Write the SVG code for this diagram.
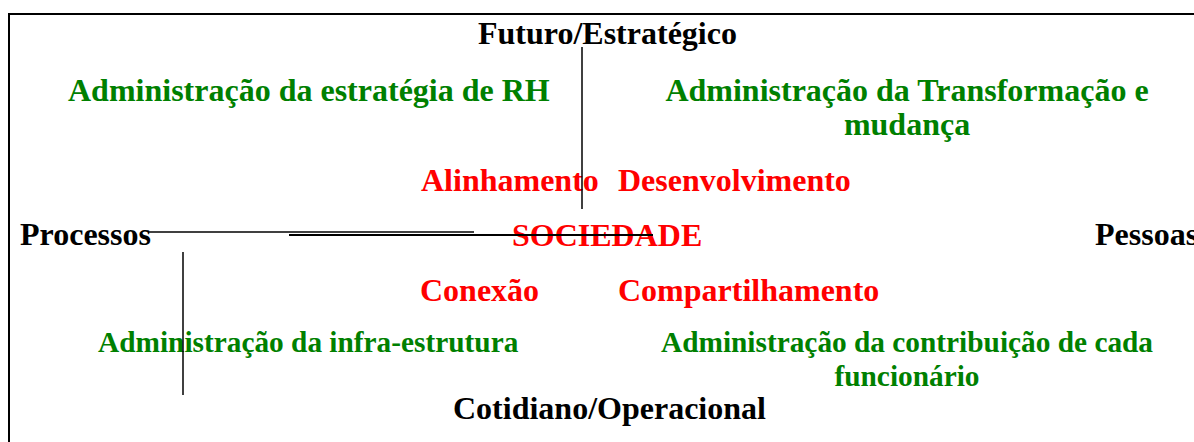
<svg xmlns="http://www.w3.org/2000/svg" width="1194" height="442" viewBox="0 0 1194 442">
<style>
text{font-family:'Liberation Serif','DejaVu Serif',serif;font-weight:700;font-size:32px}
.k{fill:#000}.g{fill:#008000}.r{fill:#ff0000}
.s{font-size:29.33px}
.ln{stroke:#000;fill:none}
</style>
<rect x="0" y="0" width="1194" height="442" fill="#fff"/>
<rect x="9" y="14" width="1200" height="440" fill="none" stroke="#000" stroke-width="2"/>
<g id="top"><text class="k" x="478" y="44">Futuro/Estratégico</text></g>
<g id="estrategia"><text class="g" x="68" y="101">Administração da estratégia de RH</text></g>
<g id="transformacao"><text class="g" x="907" y="101" text-anchor="middle">Administração da Transformação e</text><text class="g" x="907" y="135" text-anchor="middle">mudança</text></g>
<g id="alinhamento"><text class="r" x="421" y="191">Alinhamento</text></g>
<g id="desenvolvimento"><text class="r" x="618" y="191">Desenvolvimento</text></g>
<g id="processos"><text class="k" x="20" y="245">Processos</text></g>
<g id="sociedade"><text class="r" x="512" y="246">SOCIEDADE</text></g>
<g id="pessoas"><text class="k" x="1095" y="245">Pessoas</text></g>
<g id="conexao"><text class="r" x="420" y="301">Conexão</text></g>
<g id="compartilhamento"><text class="r" x="618" y="301">Compartilhamento</text></g>
<g id="infra"><text class="g s" x="98" y="352">Administração da infra-estrutura</text></g>
<g id="contribuicao"><text class="g s" x="907" y="352" text-anchor="middle">Administração da contribuição de cada</text><text class="g s" x="907" y="386" text-anchor="middle">funcionário</text></g>
<g id="bottom"><text class="k" x="453" y="419">Cotidiano/Operacional</text></g>
<g id="connectors">
<line class="ln" x1="582" y1="47" x2="582" y2="209" stroke-width="1.5"/>
<line class="ln" x1="148" y1="232" x2="474" y2="232" stroke-width="1.5"/>
<line class="ln" x1="289" y1="235" x2="653" y2="235" stroke-width="2"/>
<line class="ln" x1="183" y1="252" x2="183" y2="395" stroke-width="1.5"/>
</g>
</svg>
